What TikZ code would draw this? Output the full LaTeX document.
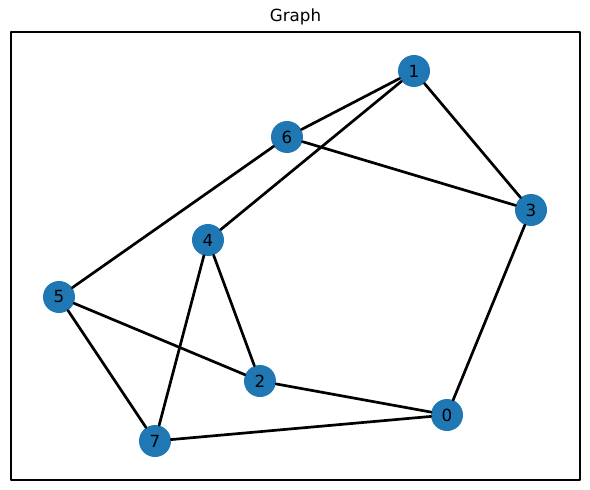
\documentclass[tikz,border=0pt]{standalone}
\usepackage{fontspec}
\setmainfont{DejaVu Sans}
\definecolor{nodeblue}{HTML}{1F77B4}
\begin{document}
\begin{tikzpicture}[
  x=1pt, y=-1pt,
  line cap=round,
  line join=round,
  every node/.style={font=\fontsize{16.7}{20}\selectfont},
  vertex/.style={circle, fill=nodeblue, minimum size=32pt, inner sep=0pt},
  edge/.style={line width=2.7pt}
]
  \useasboundingbox (0,0) rectangle (590,490);

  % Рамка и заголовок
  \draw[line width=1.1pt] (11,32) rectangle (580,480);
  \node (title) at (295.5,17) {Graph};

  % Вершины
  \node[vertex] (n1) at (414,71)  {1};
  \node[vertex] (n6) at (287,137) {6};
  \node[vertex] (n3) at (531,210) {3};
  \node[vertex] (n4) at (208,240) {4};
  \node[vertex] (n5) at (59,297)  {5};
  \node[vertex] (n2) at (260,381) {2};
  \node[vertex] (n0) at (447,415) {0};
  \node[vertex] (n7) at (155,441) {7};

  % Рёбра
  \draw[edge] (n1)--(n6);
  \draw[edge] (n1)--(n4);
  \draw[edge] (n1)--(n3);
  \draw[edge] (n6)--(n3);
  \draw[edge] (n6)--(n5);
  \draw[edge] (n4)--(n2);
  \draw[edge] (n4)--(n7);
  \draw[edge] (n5)--(n2);
  \draw[edge] (n5)--(n7);
  \draw[edge] (n2)--(n0);
  \draw[edge] (n7)--(n0);
  \draw[edge] (n3)--(n0);
\end{tikzpicture}
\end{document}
